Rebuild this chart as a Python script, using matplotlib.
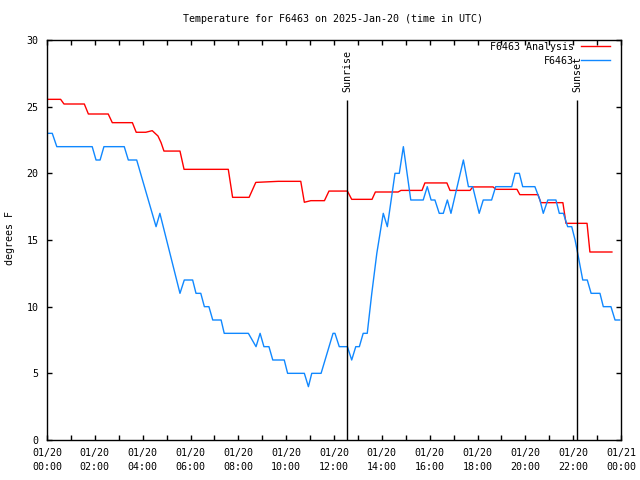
import matplotlib
matplotlib.use("Agg")
import matplotlib.pyplot as plt
import matplotlib.dates as mdates
import pandas as pd

# ---- data (hours after 2025-01-20 00:00 UTC) ----
analysis_hours = [0.0, 0.57, 0.71, 1.56, 1.73, 2.56, 2.73, 3.57, 3.73, 4.13, 4.40,
                  4.64, 4.77, 4.89, 5.56, 5.73, 7.58, 7.76, 8.45, 8.73, 9.67, 10.61,
                  10.76, 11.03, 11.60, 11.79, 12.56, 12.74, 13.59, 13.73, 14.68, 14.80,
                  15.68, 15.80, 16.72, 16.85, 17.69, 17.80, 18.65, 18.77, 19.65, 19.77,
                  20.53, 20.65, 21.57, 21.70, 22.58, 22.70, 23.62]
analysis_temp = [25.55, 25.55, 25.2, 25.2, 24.45, 24.45, 23.8, 23.8, 23.08, 23.08, 23.2,
                 22.8, 22.3, 21.67, 21.67, 20.3, 20.3, 18.2, 18.2, 19.32, 19.4, 19.4,
                 17.83, 17.95, 17.95, 18.67, 18.67, 18.05, 18.05, 18.6, 18.6, 18.72,
                 18.72, 19.28, 19.28, 18.72, 18.72, 18.98, 18.98, 18.8, 18.8, 18.4,
                 18.4, 17.8, 17.8, 16.25, 16.25, 14.1, 14.1]

obs_hours = [0.0, 0.22, 0.41, 1.89, 2.05, 2.22, 2.38, 3.23, 3.40, 3.75, 4.56, 4.72,
             5.56, 5.74, 6.09, 6.23, 6.43, 6.58, 6.77, 6.93, 7.28, 7.41, 8.42, 8.74,
             8.91, 9.07, 9.28, 9.44, 9.92, 10.06, 10.76, 10.93, 11.07, 11.46, 11.96,
             12.04, 12.22, 12.56, 12.74, 12.91, 13.06, 13.22, 13.39, 13.58, 13.79,
             14.06, 14.23, 14.55, 14.73, 14.90, 15.21, 15.73, 15.90, 16.06, 16.22,
             16.40, 16.57, 16.74, 16.89, 17.41, 17.62, 17.80, 18.07, 18.24, 18.59,
             18.76, 19.43, 19.57, 19.75, 19.89, 20.40, 20.61, 20.75, 20.94, 21.28,
             21.42, 21.59, 21.77, 21.94, 22.08, 22.19, 22.40, 22.59, 22.75, 23.12,
             23.26, 23.58, 23.75, 23.94]
obs_temp = [23, 23, 22, 22, 21, 21, 22, 22, 21, 21, 16, 17,
            11, 12, 12, 11, 11, 10, 10, 9, 9, 8, 8, 7,
            8, 7, 7, 6, 6, 5, 5, 4, 5, 5, 8,
            8, 7, 7, 6, 7, 7, 8, 8, 11, 14,
            17, 16, 20, 20, 22, 18, 18, 19, 18, 18,
            17, 17, 18, 17, 21, 19, 19, 17, 18, 18,
            19, 19, 20, 20, 19, 19, 18, 17, 18, 18,
            17, 17, 16, 16, 15, 14, 12, 12, 11, 11,
            10, 10, 9, 9]

sun_labels = ["Sunrise", "Sunset"]
sun_hours = [12.54, 22.16]

title = "Temperature for F6463 on 2025-Jan-20 (time in UTC)"
base = pd.Timestamp("2025-01-20 00:00")


def to_time(hours):
    return base + pd.to_timedelta(hours, unit="h")


plt.rcParams["font.family"] = ["DejaVu Sans Mono"]
plt.rcParams["font.size"] = 7.2

fig = plt.figure(figsize=(6.4, 4.8), dpi=100)
ax = fig.add_axes([47 / 640, 40 / 480, 574 / 640, 400 / 480])

ax.plot(to_time(analysis_hours), analysis_temp, color="#ff0000", lw=1.0,
        label="F6463 Analysis")
ax.plot(to_time(obs_hours), obs_temp, color="#1088ff", lw=1.0, label="F6463")

for name, h in zip(sun_labels, sun_hours):
    t = to_time([h])[0]
    ax.vlines(t, 0, 25.5, color="black", lw=1.0)
    ax.text(t, 26.1, name, rotation=90, ha="center", va="bottom")

ax.set_xlim(base, to_time([24])[0])
ax.set_ylim(0, 30)
ax.set_yticks(range(0, 31, 5))

ax.xaxis.set_major_locator(mdates.HourLocator(byhour=range(0, 24, 2)))
ax.xaxis.set_minor_locator(mdates.HourLocator())
ax.xaxis.set_major_formatter(mdates.DateFormatter("%m/%d\n%H:%M"))
for lbl in ax.get_xticklabels():
    lbl.set_linespacing(1.4)

ax.tick_params(which="both", direction="in", top=True, right=True,
               length=3.6, width=1, labelsize=7.2)
ax.tick_params(axis="x", pad=6)
ax.tick_params(axis="y", pad=6)
for s in ax.spines.values():
    s.set_linewidth(1)

fig.text(10 / 640, 1 - 238 / 480, "degrees F", rotation=90, ha="center", va="center")
fig.text(0.52, 1 - 19 / 480, title, ha="center", va="center")

ax.legend(loc="upper right", bbox_to_anchor=(1 - 11 / 574, 1 - 2 / 400),
          borderaxespad=0, borderpad=0, frameon=False, markerfirst=False,
          handlelength=2.9, handletextpad=0.7, labelspacing=0.4)

fig.savefig("out.png", dpi=100)
